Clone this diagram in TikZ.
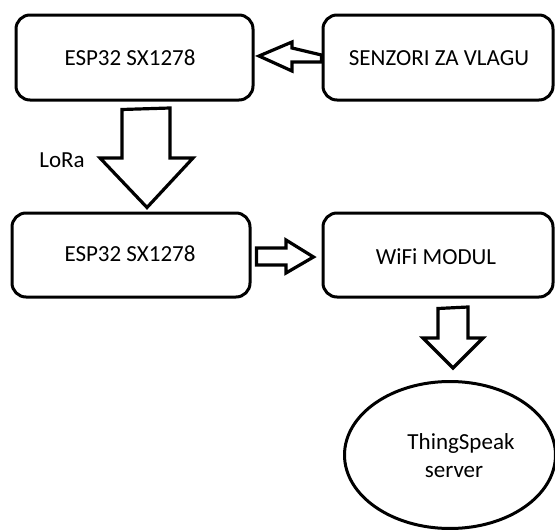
\documentclass[tikz,border=0pt]{standalone}
\usepackage{fontspec}
\setmainfont{Carlito}
\usetikzlibrary{shapes.geometric,calc}
\begin{document}
\begin{tikzpicture}[x=1pt,y=-1pt,
  box/.style={draw,line width=3pt,rounded corners=14pt,inner sep=0pt,minimum height=85pt},
  blockarrow/.style={draw,line width=3.2pt,fill=white,line join=miter},
  txt/.style={inner sep=0pt,font=\fontsize{23}{28}\selectfont,align=center}]
\useasboundingbox (0,0) rectangle (555,530);
\node[box,minimum width=237pt] (b1) at (134.5,57.5) {};
\node[txt] (t1) at (130,58) {ESP32 SX1278};
\node[box,minimum width=230pt] (b2) at (438,57.5) {};
\node[txt] (t2) at (439,58) {SENZORI ZA VLAGU};
\node[box,minimum width=238pt,minimum height=84pt] (b3) at (131,255) {};
\node[txt] (t3) at (130,254) {ESP32 SX1278};
\node[box,minimum width=230pt,minimum height=84pt] (b4) at (438,255) {};
\node[txt] (t4) at (436,257) {WiFi MODUL};
\node[draw,line width=3pt,ellipse,minimum width=211pt,minimum height=147pt,inner sep=0pt] (e) at (450,455) {};
\node[txt] (t5a) at (461,443) {ThingSpeak};
\node[txt] (t5b) at (454,472) {server};
\node[txt,anchor=center] (lora) at (62,160) {LoRa};
% arrow SENZORI -> ESP32
\draw[blockarrow] ($(b2.west)+(0,-2.5)$) -- (292,48) -- (292,42) -- (259,56) -- (292,71) -- (292,62) -- ($(b2.west)+(0,4.5)$) -- cycle;
% LoRa arrow
\draw[blockarrow] ($(b1.south)+(-12.5,8)$) -- (170,108) -- (170,158) -- (193,158) -- ($(b3.north)+(16,-4)$) -- (100,158) -- (122,158) -- cycle;
% ESP32 -> WiFi
\draw[blockarrow] ($(b3.east)+(5,-7)$) -- (286,248) -- (286,240) -- ($(b4.west)+(-8,2)$) -- (286,273) -- (286,265) -- ($(b3.east)+(5,10)$) -- cycle;
% WiFi -> ThingSpeak
\draw[blockarrow] ($(b4.south)+(0,10)$) -- (468,307) -- (468,338) -- (483,338) -- ($(e.north)+(3,-12)$) -- (423,338) -- (438,338) -- cycle;
\end{tikzpicture}
\end{document}
